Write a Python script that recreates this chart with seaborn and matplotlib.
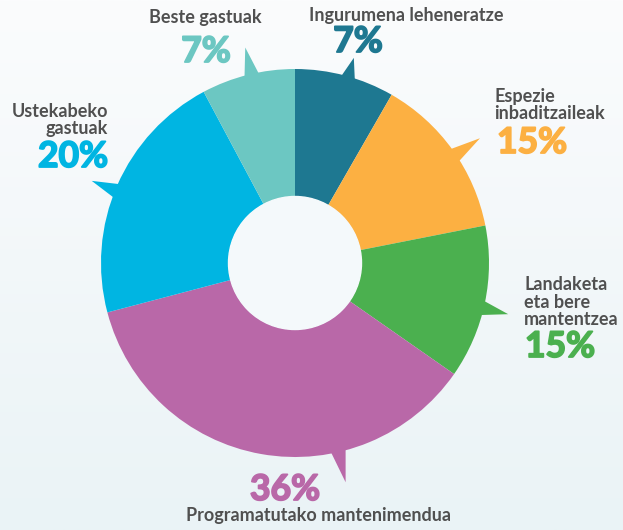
import numpy as np
import matplotlib.pyplot as plt
import matplotlib.patheffects as pe
import seaborn as sns

# slice shares (clockwise from 12 o'clock)
categories = ["Ingurumena leheneratze", "Espezie inbaditzaileak",
              "Landaketa eta bere mantentzea", "Programatutako mantenimendua",
              "Ustekabeko gastuak", "Beste gastuak"]
shares = [8.3, 13.6, 12.8, 36.2, 21.3, 7.8]
pct_labels = ["7%", "15%", "15%", "36%", "20%", "7%"]
colors = ["#1e7891", "#fcb042", "#4bb04f", "#b968a8", "#00b5e2", "#6cc7c2"]

sns.set_theme(style="white")
plt.rcParams['font.family'] = ['Lato', 'DejaVu Sans']
GREY = "#505050"

W, H = 623, 530
fig = plt.figure(figsize=(W / 100, H / 100), dpi=100)
ax = fig.add_axes([0, 0, 1, 1])

# soft background gradient
grad = np.linspace(0, 1, 256).reshape(-1, 1)
bg = sns.blend_palette(["#eaf3f6", "#fbfcfd"], as_cmap=True)
ax.imshow(grad, extent=[0, W, 0, H], origin="lower", cmap=bg, aspect="auto", zorder=0)

cx, cy, R, r_in = 295, 267, 194, 66.5
ax.pie(shares, colors=colors, startangle=90, counterclock=False,
       center=(cx, cy), radius=R, frame=True,
       wedgeprops=dict(width=R - r_in, linewidth=0))
ax.add_patch(plt.Circle((cx, cy), r_in, color="#f4f9fb", zorder=3))
ax.set_xlim(0, W)
ax.set_ylim(0, H)
ax.set_aspect("equal")
ax.axis("off")

# speech-bubble pointers: angle (deg clockwise from top) and tip radius
pointer_ang = [16, 56, 103.5, 167, 292, 347]
pointer_tip = [1.10, 1.15, 1.13, 1.16, 1.13, 1.14]
for a, t, c in zip(pointer_ang, pointer_tip, colors):
    pts = []
    for ang, rr in [(a - 2.6, 0.97), (a, t), (a + 2.6, 0.97)]:
        th = np.deg2rad(ang)
        pts.append((cx + rr * R * np.sin(th), cy + rr * R * np.cos(th)))
    ax.add_patch(plt.Polygon(pts, closed=True, color=c, lw=0, zorder=2))

lab = dict(color=GREY, fontsize=13, fontweight="bold", linespacing=1.05)
big = dict(fontsize=25.5, fontweight="bold", fontstyle="normal")


def pct(x, y, s, c, ha):
    t = ax.text(x, y, s, color=c, ha=ha, va="center", **big)
    t.set_path_effects([pe.withStroke(linewidth=1.3, foreground=c)])


ax.text(406, 514, "Ingurumena leheneratze", ha="center", va="center", **lab)
pct(358, 488, pct_labels[0], colors[0], "center")

ax.text(494, 425, "Espezie\ninbaditzaileak", ha="left", va="center", **lab)
pct(497, 387, pct_labels[1], colors[1], "left")

ax.text(524, 228, "Landaketa\neta bere\nmantentzea", ha="left", va="center", **lab)
pct(525, 183, pct_labels[2], colors[2], "left")

pct(285, 40, pct_labels[3], colors[3], "center")
ax.text(318, 14, "Programatutako mantenimendua", ha="center", va="center", **lab)

ax.text(108, 410, "Ustekabeko\ngastuak", ha="right", va="center", **lab)
pct(108, 373, pct_labels[4], colors[4], "right")

ax.text(205, 513, "Beste gastuak", ha="center", va="center", **lab)
pct(206, 478, pct_labels[5], colors[5], "center")

fig.savefig("out.png", dpi=100)
